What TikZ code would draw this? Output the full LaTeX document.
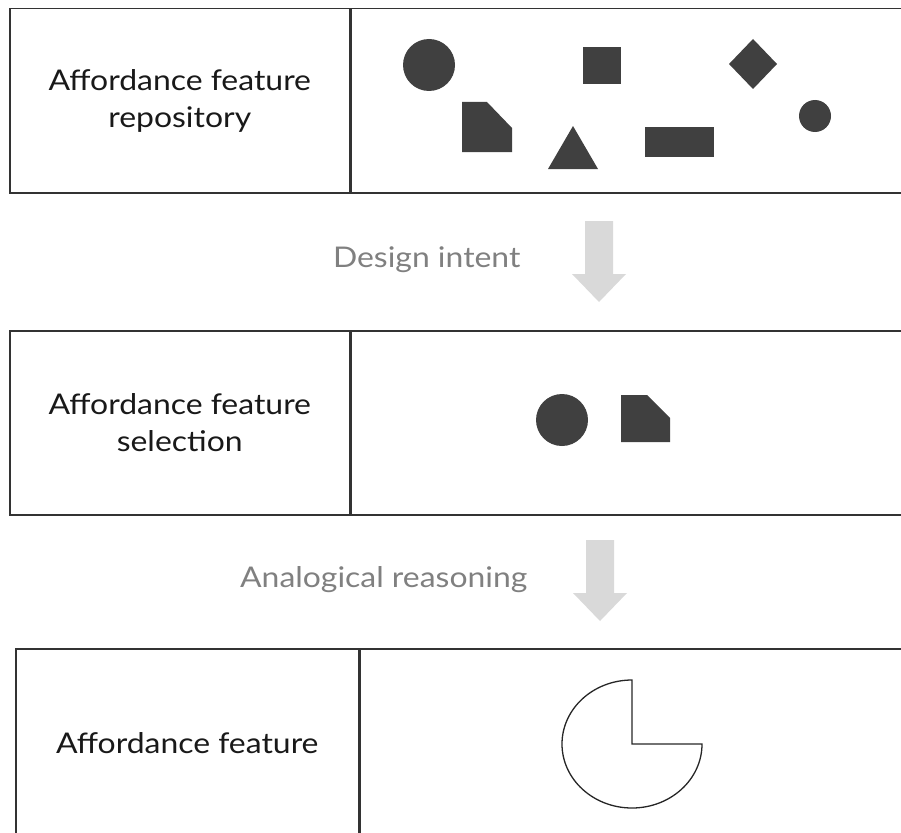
\documentclass[tikz,border=0pt]{standalone}
\usepackage{fontspec}
\setmainfont{Lato}[FakeStretch=1.12]
\usetikzlibrary{positioning}

\tikzset{
  labelcell/.style={draw=black!80, line width=1.5pt, minimum width=340pt, minimum height=184pt,
    inner sep=0pt, align=center, text=black!90, font=\fontsize{28.5}{37}\selectfont},
  shapecell/.style={draw=black!80, line width=1.5pt, minimum width=600pt, minimum height=184pt, inner sep=0pt},
  stepnote/.style={text=black!50, font=\fontsize{28.5}{32}\selectfont},
  feature/.style={fill=black!75},
  outline/.style={draw=black!85, line width=1.3pt},
  flowarrow/.style={fill=black!15},
}
\newcommand{\blockarrow}[1]{%
  \fill[flowarrow, shift={(#1)}] (-14,0) -- (14,0) -- (14,53) -- (27,53) -- (0,81) -- (-27,53) -- (-14,53) -- cycle;}

\begin{document}
\begin{tikzpicture}[x=1pt, y=-1pt]
    \useasboundingbox (0,0) rectangle (901,832);
    \clip (0,0) rectangle (901,832);

    % panels
    \node [labelcell, anchor=north west] (repo) at (9,8) {Affordance feature\\repository};
    \node [shapecell, anchor=west, right=0pt of repo] (reposhapes) {};

    \node [labelcell, anchor=north west] (select) at (9,330) {Affordance feature\\selection};
    \node [shapecell, anchor=west, right=0pt of select] (selectshapes) {};

    \node [labelcell, anchor=north west, minimum width=343pt, minimum height=188pt] (result) at (15,648) {Affordance feature};
    \node [shapecell, anchor=west, minimum height=188pt, right=0pt of result] (resultshapes) {};

    % steps between panels
    \coordinate (intentarrow) at (599,221);
    \coordinate (analogyarrow) at (600,540);
    \blockarrow{intentarrow}
    \blockarrow{analogyarrow}
    \node [stepnote, anchor=east] (intent) at (524,260) {Design intent};
    \node [stepnote, anchor=east] (analogy) at (531,580) {Analogical reasoning};

    % repository features
    \fill [feature] (429,65) circle [radius=26];
    \fill [feature] (583,47) rectangle (621,84);
    \fill [feature] (753,39) -- (777,64) -- (753,89) -- (729,64) -- cycle;
    \fill [feature] (815,116) circle [radius=16];
    \fill [feature] (462,102) -- (487,102) -- (512,128) -- (512,152) -- (462,152) -- cycle;
    \fill [feature] (573,126) -- (598,169) -- (548,169) -- cycle;
    \fill [feature] (645,127) rectangle (714,157);

    % selected features
    \fill [feature] (562,420) circle [radius=26];
    \fill [feature] (621,395) -- (647,395) -- (670,418) -- (670,442) -- (621,442) -- cycle;

    % resulting feature
    \draw [outline] (632,744) -- (632,680) arc [start angle=270, end angle=0, x radius=70, y radius=64] -- cycle;
\end{tikzpicture}
\end{document}
